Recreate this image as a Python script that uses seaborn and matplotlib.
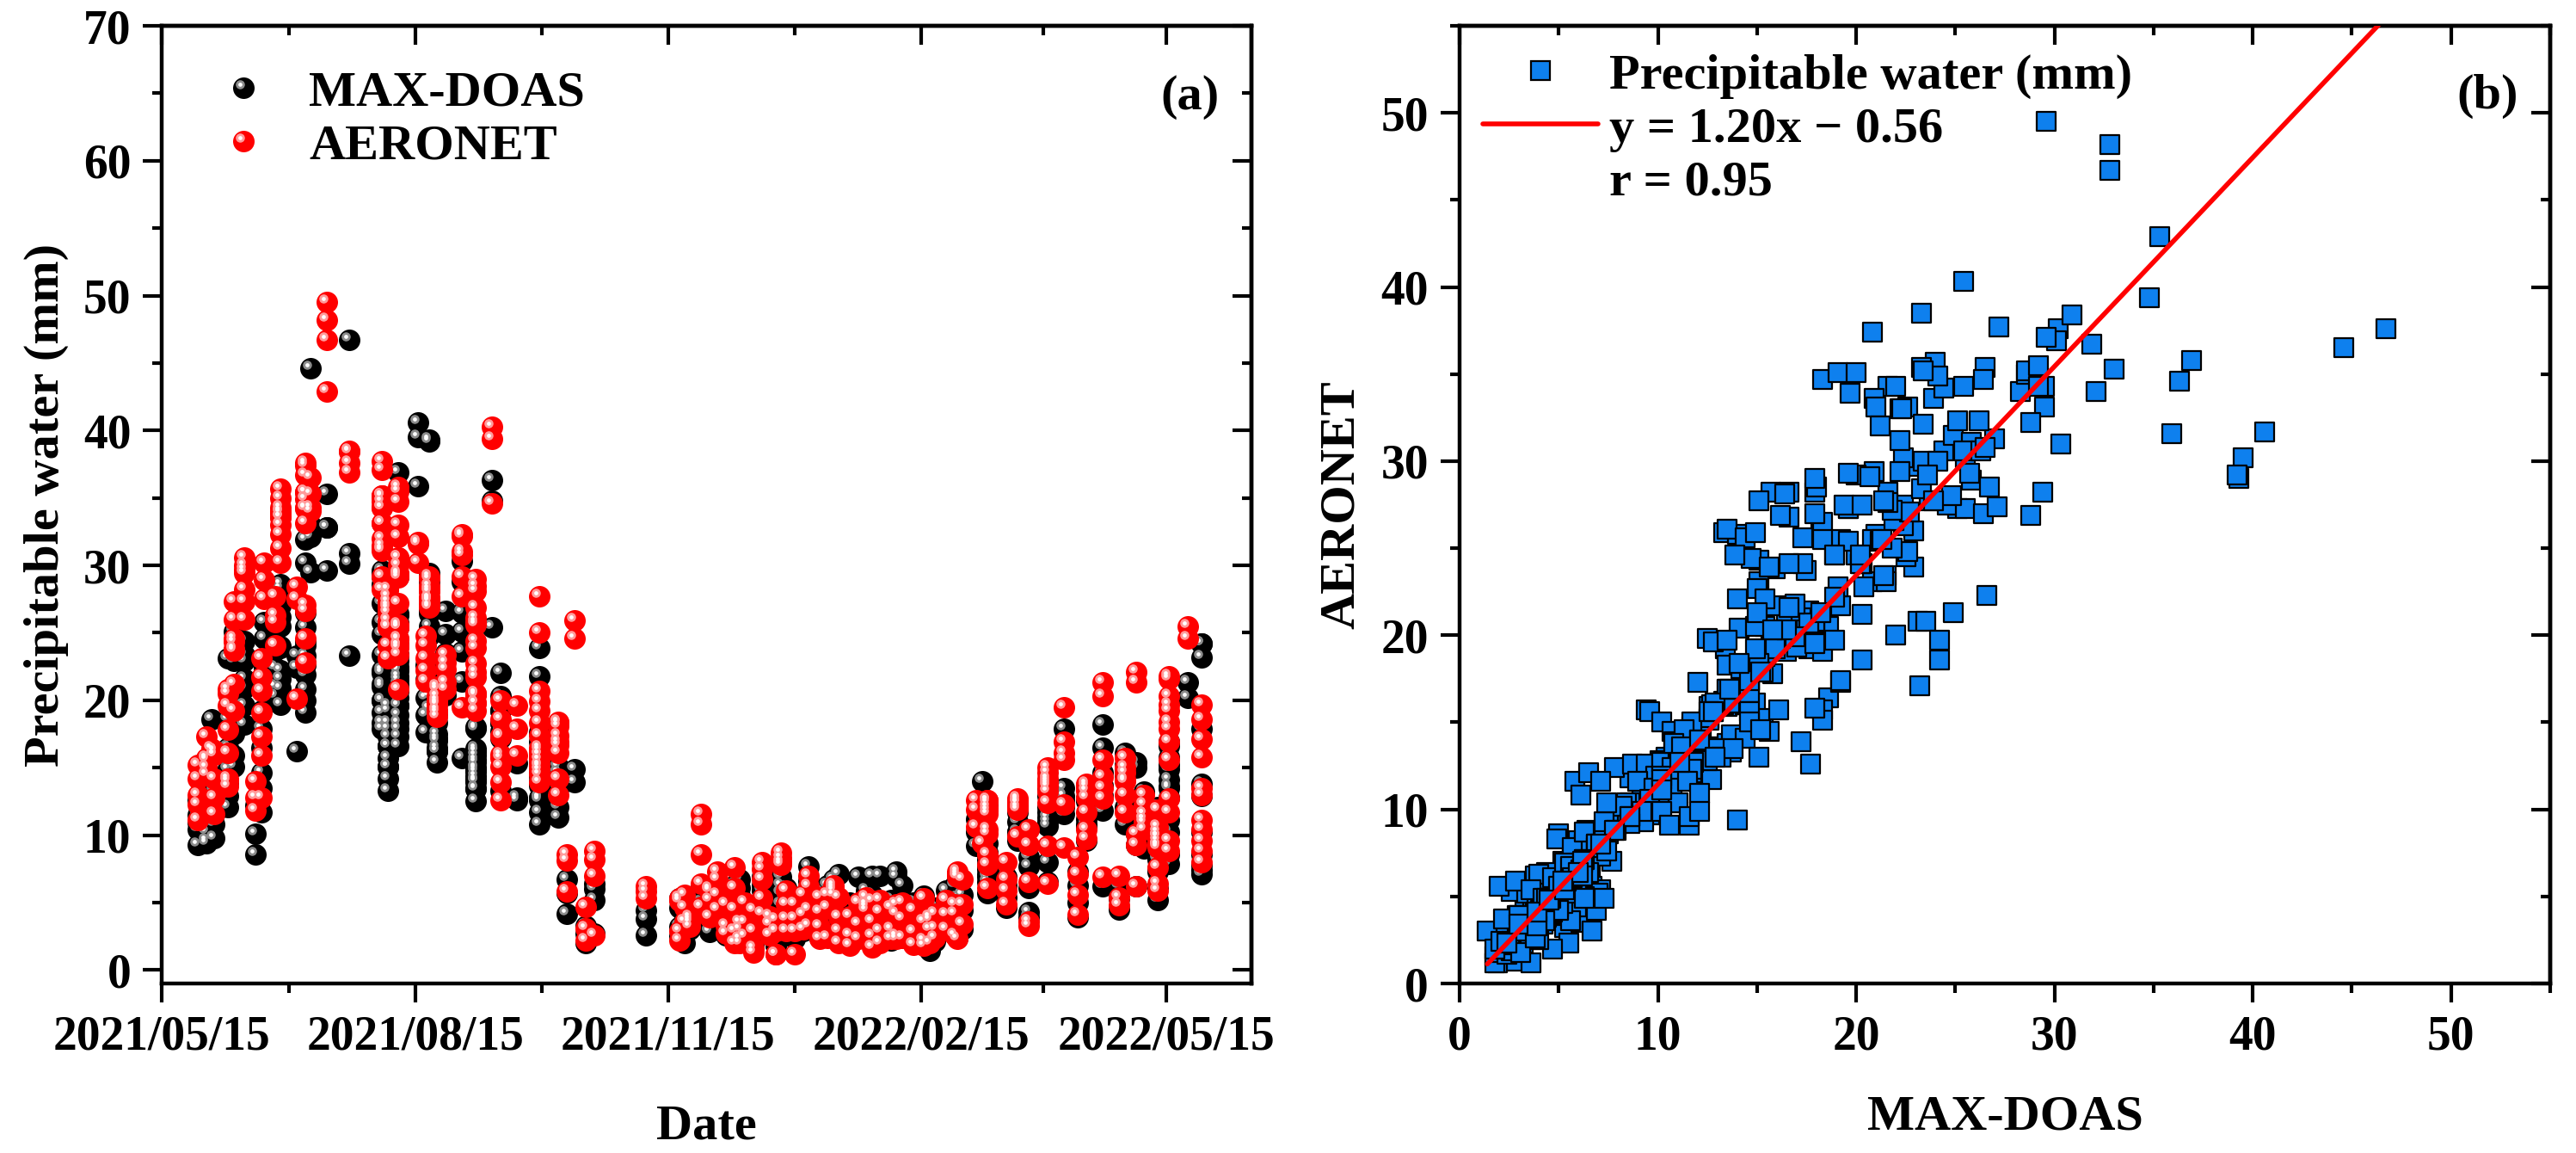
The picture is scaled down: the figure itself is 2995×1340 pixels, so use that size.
import numpy as np
import pandas as pd
import matplotlib
matplotlib.use("Agg")
import matplotlib.pyplot as plt
import matplotlib.dates as mdates
import seaborn as sns
from matplotlib.path import Path
from matplotlib.lines import Line2D
from matplotlib.legend_handler import HandlerTuple

# --- data (day = days after 2021/05/15) ---
summer_day = [13, 13, 13, 13, 13, 16, 16, 16, 16, 16, 18,
              19, 19, 19, 19, 19, 19, 19,
              24, 24, 24, 24, 24, 24, 24, 24,
              26, 26, 26, 26, 26, 26, 26, 26, 30, 30, 30, 30, 30, 30, 30,
              34, 34, 34, 36, 36, 36, 36, 36, 36, 36, 37, 37, 37, 41, 41, 41, 41,
              43, 43, 43, 43, 43, 43, 43, 43, 43, 43, 43, 49, 49, 49,
              52, 52, 52, 52, 52, 52, 52, 52, 52, 52, 52, 52, 52,
              54, 54, 54, 54, 60, 60, 60, 60, 68, 68, 68, 68]
summer_maxdoas = [9.3, 10.4, 11.5, 12.6, 10.9, 9.4, 9.6, 10.2, 10.7, 12.0, 18.6,
                  10.8, 11.6, 13.3, 9.8, 12.7, 13.7, 14.4,
                  14.9, 15.8, 16.5, 18.6, 23.1, 12.1, 12.9, 13.9,
                  22.9, 25.1, 20.3, 17.6, 15.1, 15.9, 17.5, 18.9,
                  21.6, 22.9, 24.4, 19.6, 18.2, 20.9, 23.4,
                  8.6, 10.1, 12.2, 13.5, 14.6, 16.5, 17.9, 19.2, 20.8, 11.7,
                  24.6, 25.8, 22.4, 20.3, 22.4, 23.7, 21.0,
                  25.5, 27.0, 26.2, 28.3, 28.6, 24.0, 22.2, 23.9, 21.6, 20.9, 19.7,
                  16.2, 22.4, 23.3,
                  19.1, 20.0, 21.9, 22.7, 24.4, 26.5, 31.9, 30.2, 23.3, 24.1, 25.4, 22.6, 20.8,
                  44.6, 33.0, 29.5, 32.1, 29.6, 32.8, 32.8, 35.3, 46.7, 30.9, 23.3, 30.1]
summer_aeronet = [11.1, 13.0, 14.2, 15.2, 12.3, 15.7, 15.6, 15.0, 14.5, 17.3, 16.4,
                  12.8, 14.2, 16.2, 11.6, 16.0, 16.3, 16.0,
                  16.1, 17.8, 19.6, 20.5, 20.8, 14.0, 13.6, 14.2,
                  26.0, 27.3, 21.2, 19.2, 24.3, 23.8, 23.7, 24.6,
                  28.2, 29.7, 30.6, 27.3, 26.0, 29.4, 30.0,
                  11.8, 12.8, 14.0, 15.9, 17.3, 19.1, 20.7, 21.7, 23.1, 12.8,
                  27.5, 28.9, 30.2, 24.1, 26.3, 27.7, 25.8,
                  30.2, 31.3, 32.3, 34.0, 35.0, 35.7, 33.0, 33.6, 34.3, 33.6, 33.9,
                  20.1, 27.5, 28.4,
                  22.8, 24.6, 26.6, 27.1, 34.2, 35.4, 36.7, 37.6, 35.4, 34.9, 34.3, 33.1, 37.4,
                  36.5, 35.3, 34.3, 34.0, 49.5, 48.2, 46.7, 42.9, 37.6, 38.4, 38.5, 36.9]

autumn_day = [80, 80, 80, 80, 80, 80, 80, 80, 80, 80, 80, 80, 80, 80, 80, 80, 80,
              82, 82, 82, 82, 82, 82, 82, 82, 82, 82, 82, 82,
              86, 86, 86, 86, 86, 86, 86, 86, 86, 86, 86, 86, 86, 86, 86, 86, 86,
              86, 86, 86, 86, 86, 86, 86, 86,
              93, 93, 93, 96, 96, 96, 96, 96,
              97, 97, 97, 97, 97, 97, 97, 97, 97, 97, 97, 97,
              100, 100, 100, 100, 100, 100, 100, 100, 100,
              103, 103, 103, 103, 103, 109, 109, 109, 109, 109, 109, 109,
              114, 114, 114, 114, 114, 114, 114, 114, 114, 114, 114, 114, 114,
              114, 114, 114, 114, 114,
              120, 120, 120, 123, 123, 123, 123, 123, 123, 123, 123, 123, 129, 129, 129,
              137, 137, 137, 137, 137, 137, 137, 137, 137, 137, 137,
              137, 137, 137, 137, 137, 137,
              144, 144, 144, 144, 144, 144, 144, 144, 144,
              147, 147, 147, 150, 150, 154, 154, 154,
              157, 157, 157, 157, 176, 176, 176]
autumn_maxdoas = [27.2, 29.6, 23.4, 22.0, 21.0, 20.0, 17.9, 18.3, 19.1, 20.0, 21.2,
                  22.2, 24.9, 25.8, 28.6, 29.2, 29.5,
                  19.6, 18.3, 19.2, 17.3, 15.1, 17.9, 13.3, 14.2, 16.6, 15.7, 16.6, 15.1,
                  36.9, 29.2, 26.4, 22.3, 25.4, 21.8, 20.8, 16.6, 17.9, 22.9, 23.4,
                  24.1, 26.3, 25.7, 22.2, 19.6, 20.7,
                  17.3, 18.3, 19.6, 21.2, 22.5, 18.9, 20.2, 21.5,
                  40.6, 39.5, 35.9, 22.6, 20.2, 21.5, 18.9, 17.6,
                  39.3, 26.7, 25.5, 24.8, 19.4, 20.3, 21.6, 26.4, 27.1, 28.8, 29.4, 39.2,
                  16.2, 15.4, 16.5, 17.2, 17.5, 16.2, 17.0, 18.3, 18.9,
                  26.6, 24.9, 23.5, 20.4, 21.4, 25.1, 26.5, 23.6, 21.4, 15.7, 28.8, 30.3,
                  18.0, 17.9, 16.4, 16.2, 14.0, 13.5, 14.4, 14.7, 15.6, 15.0, 14.0, 12.5, 13.4,
                  15.4, 14.1, 14.9, 15.9, 16.2,
                  25.4, 34.8, 36.3, 22.0, 20.3, 19.2, 18.3, 13.3, 19.2, 18.3, 17.2, 17.7,
                  12.8, 15.3, 12.6,
                  23.9, 21.8, 17.6, 16.9, 15.9, 15.0, 14.6, 13.9, 12.8, 11.7, 10.8,
                  12.7, 13.7, 14.4, 12.6, 15.3, 15.6,
                  14.6, 13.6, 12.1, 11.3, 13.5, 14.2, 15.1, 14.6, 13.5,
                  6.7, 5.7, 4.2, 14.9, 13.9, 3.3, 2.7, 2.0,
                  6.4, 6.0, 5.2, 2.7, 3.8, 2.6, 4.4]
autumn_aeronet = [37.7, 37.1, 35.2, 34.3, 33.1, 29.2, 28.2, 34.7, 35.1, 35.1, 32.0,
                  31.2, 31.5, 31.1, 35.2, 34.3, 33.1,
                  27.3, 26.5, 25.5, 24.1, 23.1, 27.0, 25.9, 25.4, 26.8, 28.2, 28.2, 27.7,
                  35.8, 35.5, 34.7, 33.0, 30.6, 27.2, 25.5, 24.1, 20.8, 23.9, 32.1,
                  30.0, 30.6, 29.3, 29.4, 29.3, 29.1,
                  25.6, 25.5, 25.4, 25.4, 24.5, 24.6, 24.1, 23.4,
                  31.7, 30.2, 31.6, 24.8, 24.1, 23.1, 22.2, 21.4,
                  29.0, 28.5, 27.3, 28.0, 27.5, 27.5, 27.6, 27.0, 27.4, 26.9, 28.2, 29.2,
                  20.0, 18.8, 20.8, 21.0, 20.3, 19.8, 19.3, 19.1, 19.7,
                  22.3, 21.3, 20.8, 22.8, 23.4, 32.3, 30.8, 29.2, 27.7, 19.5, 32.2, 31.0,
                  28.5, 29.0, 28.1, 26.9, 25.8, 26.1, 25.6, 24.4, 23.9, 22.7, 22.1, 19.8, 19.2,
                  20.5, 20.4, 20.5, 21.7, 19.8,
                  40.3, 39.4, 34.6, 20.0, 18.6, 17.3, 15.7, 16.0, 17.4, 15.1, 13.9, 12.6,
                  19.6, 17.9, 15.9,
                  27.7, 25.0, 20.7, 19.9, 19.2, 18.3, 17.4, 16.5, 15.6, 14.8, 13.9,
                  16.0, 16.3, 16.0, 15.1, 15.2, 14.5,
                  16.7, 16.1, 14.2, 13.0, 18.3, 18.1, 18.4, 17.4, 16.9,
                  8.6, 8.1, 5.8, 25.9, 24.6, 4.7, 3.1, 2.2,
                  8.8, 8.2, 7.0, 2.6, 6.2, 5.3, 5.8]

winter_day = [188, 188, 188, 188, 190, 190, 190, 192, 192, 192, 192,
              196, 196, 196, 196, 196,
              199, 199, 199, 199, 202, 202, 202, 202, 205, 205, 205,
              208, 208, 208, 208, 208, 210, 210, 210, 210, 212, 212, 212,
              215, 215, 215, 215,
              218, 218, 218, 218, 218, 221, 221, 221, 223, 223, 223, 223,
              225, 225, 225, 225, 227, 227, 227, 227, 230, 230, 230, 230, 233, 233, 233,
              235, 235, 235, 235, 239, 239, 239, 239, 242, 242, 242, 244, 244, 244, 244,
              246, 246, 246, 246, 250, 250, 250, 253, 253, 253, 256, 256, 256, 256,
              258, 258, 258, 258, 261, 261, 261, 261, 265, 265, 265, 267, 267, 267, 267,
              269, 269, 269, 273, 273, 273, 277, 277, 277, 277, 279, 279, 279, 279,
              281, 281, 281, 285, 285, 285, 288, 288, 288, 289, 289, 289, 289, 291, 291, 291]
winter_maxdoas = [4.6, 3.2, 2.5, 5.3, 4.0, 3.0, 2.0, 3.0, 3.8, 4.5, 5.3,
                  5.8, 6.1, 5.0, 4.4, 3.7,
                  3.4, 2.9, 4.5, 2.8, 5.9, 4.8, 4.0, 6.5, 3.1, 2.6, 4.2,
                  6.3, 4.6, 2.9, 2.2, 5.6, 6.1, 6.7, 5.5, 4.7, 3.5, 4.9, 2.7,
                  2.5, 1.8, 3.9, 2.8,
                  6.9, 5.9, 5.1, 4.1, 6.3, 3.3, 2.8, 4.4, 2.2, 1.9, 3.6, 1.8,
                  4.9, 5.7, 6.3, 6.9, 6.1, 5.1, 4.3, 3.0, 4.7, 3.4, 2.3, 3.6, 5.4, 2.9, 3.8,
                  7.7, 6.6, 4.2, 3.2, 5.8, 3.6, 2.4, 4.6, 6.3, 4.4, 2.6, 4.0, 4.7, 5.7, 6.7,
                  7.1, 4.9, 3.5, 2.2, 5.0, 3.2, 2.0, 6.9, 4.2, 2.8, 3.6, 4.2, 4.9, 5.9,
                  7.0, 5.6, 3.6, 2.4, 7.0, 4.8, 3.0, 2.1, 5.2, 3.5, 2.2, 6.9, 7.3, 3.2, 4.0,
                  6.3, 4.4, 2.9, 5.0, 3.4, 2.6, 5.5, 4.0, 2.5, 3.1, 1.4, 2.2, 3.0, 1.8,
                  4.6, 3.3, 2.1, 5.9, 4.7, 3.2, 6.3, 5.0, 3.8, 2.4, 5.3, 6.3, 7.1, 5.6, 4.4, 3.0]
winter_aeronet = [5.1, 2.9, 2.2, 5.3, 4.6, 3.6, 5.6, 3.9, 3.5, 3.7, 3.2,
                  11.6, 10.8, 8.6, 6.4, 4.7,
                  5.2, 3.9, 6.0, 5.9, 6.7, 5.6, 4.5, 7.3, 3.3, 2.7, 4.9,
                  7.6, 4.5, 2.9, 2.0, 6.1, 3.5, 3.0, 2.3, 2.0, 3.5, 5.0, 2.5,
                  2.9, 1.6, 4.4, 1.3,
                  7.5, 6.7, 5.3, 4.2, 8.0, 3.4, 2.6, 4.0, 2.9, 1.2, 3.7, 1.2,
                  8.3, 7.8, 8.7, 8.0, 5.9, 4.9, 3.8, 2.9, 4.9, 3.8, 2.9, 1.2, 5.6, 3.0, 4.1,
                  7.0, 6.2, 4.5, 3.3, 5.4, 3.2, 2.3, 4.3, 5.6, 4.6, 2.4, 6.3, 6.1, 5.9, 5.6,
                  5.4, 3.9, 2.9, 2.0, 4.0, 2.6, 1.8, 5.0, 3.4, 2.3, 5.4, 4.9, 4.7, 4.4,
                  5.1, 3.6, 2.5, 1.7, 5.2, 4.3, 2.9, 2.0, 4.6, 3.0, 2.3, 4.2, 4.9, 2.3, 2.5,
                  5.0, 3.8, 2.4, 4.4, 2.8, 1.9, 5.3, 3.6, 2.2, 1.8, 3.0, 3.7, 3.9, 2.0,
                  4.2, 3.1, 2.4, 5.2, 4.1, 3.0, 4.9, 4.2, 2.6, 2.3, 6.9, 7.1, 7.3, 6.7, 4.9, 3.4]

spring_day = [296, 296, 296, 298, 300, 300, 300, 300, 300, 300, 300, 300, 300, 300, 300,
              307, 307, 307, 307, 311, 311, 311, 311, 311, 311, 311,
              315, 315, 315, 315, 315,
              322, 322, 322, 322, 322, 322, 322, 322, 322, 322, 328, 328, 328, 328, 328, 328,
              333, 333, 333, 333, 336, 336, 336, 336, 336, 336, 336,
              342, 342, 342, 342, 342, 342, 342, 348, 348, 348,
              350, 350, 350, 350, 350, 350, 350,
              354, 354, 354, 354, 354, 357, 357, 357, 357, 357, 357, 357, 357,
              362, 362, 362, 362, 362, 362, 362, 362, 362, 362, 362, 362, 362, 362, 362,
              366, 366, 366, 366, 366, 366, 366, 366, 366, 366, 366, 366, 366,
              373, 373, 378, 378, 378, 378, 378, 378, 378, 378, 378, 378, 378]
spring_maxdoas = [11.2, 10.2, 9.2, 14.0, 12.2, 8.6, 8.2, 7.5, 6.9, 5.7, 7.8, 8.7, 9.4, 6.5, 7.1,
                  6.9, 6.3, 5.4, 4.6, 10.2, 9.9, 9.6, 10.2, 11.0, 11.7, 12.3,
                  8.4, 7.7, 6.1, 4.3, 3.9,
                  11.0, 10.7, 8.0, 6.5, 11.7, 11.3, 12.1, 12.9, 13.5, 13.9,
                  17.9, 13.5, 12.9, 12.6, 12.1, 11.6,
                  7.3, 6.3, 5.0, 3.9, 12.7, 10.6, 9.6, 12.5, 13.7, 10.8, 11.2,
                  18.2, 16.5, 14.6, 13.7, 12.9, 11.8, 6.2, 4.5, 6.2, 5.3,
                  16.1, 14.4, 10.8, 12.1, 14.6, 15.2, 15.1,
                  15.4, 15.0, 10.1, 9.3, 6.2, 13.2, 11.7, 9.0, 9.8, 10.7, 11.5, 12.1, 11.0,
                  10.2, 9.6, 8.3, 7.4, 6.0, 5.2, 9.2, 10.2, 10.6, 11.6, 12.1, 7.5, 8.2, 7.3, 8.6,
                  16.9, 15.8, 13.5, 14.9, 14.1, 15.2, 16.6, 13.6, 12.8, 11.1, 10.2, 8.6, 7.9,
                  21.3, 20.2, 24.2, 23.2, 17.9, 13.8, 12.9, 10.2, 8.6, 7.8, 7.4, 7.1, 24.2]
spring_aeronet = [12.6, 11.9, 10.6, 9.4, 11.8, 10.4, 10.1, 8.6, 7.8, 6.1, 12.4, 12.6, 12.6, 12.1, 11.6,
                  8.0, 6.7, 5.9, 4.9, 12.6, 11.9, 9.9, 12.7, 12.4, 12.1, 12.4,
                  10.4, 9.3, 6.5, 3.6, 3.3,
                  13.2, 12.4, 9.2, 6.4, 15.0, 14.6, 14.0, 13.6, 13.8, 14.2,
                  19.5, 16.9, 16.1, 15.6, 12.3, 9.1,
                  8.4, 7.1, 5.6, 4.1, 11.7, 10.4, 9.7, 12.8, 13.3, 13.8, 13.6,
                  21.3, 20.3, 15.6, 14.3, 13.5, 12.7, 6.9, 4.8, 7.0, 5.4,
                  15.7, 14.1, 11.7, 14.0, 15.0, 14.6, 13.0,
                  22.1, 21.3, 10.1, 9.3, 6.2, 13.0, 12.3, 11.6, 11.2, 11.2, 11.6, 10.9, 10.4,
                  11.9, 10.6, 9.3, 7.6, 6.4, 5.9, 9.9, 9.9, 9.1, 9.6, 9.9, 9.9, 10.2, 9.3, 9.2,
                  21.8, 20.3, 19.7, 19.2, 18.4, 17.9, 21.6, 16.9, 15.6, 12.7, 11.7, 9.6, 8.8,
                  25.5, 24.6, 19.7, 17.1, 15.8, 13.5, 13.0, 11.1, 9.6, 8.8, 10.4, 8.0, 18.6]

fit_slope = 1.20
fit_intercept = -0.56
fit_r = 0.95

start_date = "2021-05-15"
major_dates = ["2021-05-15", "2021-08-15", "2021-11-15", "2022-02-15", "2022-05-15"]
end_date = "2022-06-15"

# --- table ---
df = pd.DataFrame({
    "day": np.concatenate([summer_day, autumn_day, winter_day, spring_day]),
    "maxdoas": np.concatenate([summer_maxdoas, autumn_maxdoas, winter_maxdoas, spring_maxdoas]),
    "aeronet": np.concatenate([summer_aeronet, autumn_aeronet, winter_aeronet, spring_aeronet]),
})
df["date"] = pd.Timestamp(start_date) + pd.to_timedelta(df["day"], unit="D")

sns.set_theme(style="white")
plt.rcParams["font.family"] = ["Liberation Serif", "DejaVu Serif"]
plt.rcParams["font.weight"] = "bold"
plt.rcParams["axes.labelweight"] = "bold"
for key in ["text.color", "axes.labelcolor", "xtick.color", "ytick.color", "axes.edgecolor"]:
    plt.rcParams[key] = "black"

TICK_FS = 40
LABEL_FS = 42
SPINE_W = 3.2


def spot(r, off=2.9):
    # small off-centre circle, used for the shiny highlight on the balls
    return Path.circle((-off, off), r), (2 * (off + r)) ** 2


ring_path, ring_s = spot(3.8)
core_path, core_s = spot(1.7)
BALL_S = 324


def style_axes(ax, xmaj, xmin, ymaj, ymin):
    for sp in ax.spines.values():
        sp.set_linewidth(SPINE_W)
        sp.set_color("black")
    ax.tick_params(which="major", direction="out", length=16, width=3,
                   labelsize=TICK_FS, pad=10, bottom=True, left=True, colors="black")
    ax.tick_params(which="minor", direction="out", length=8, width=3,
                   bottom=True, left=True)
    ax.set_xticks(xmaj)
    ax.set_xticks(xmin, minor=True)
    ax.set_yticks(ymaj)
    ax.set_yticks(ymin, minor=True)
    top = ax.secondary_xaxis("top")
    top.set_xticks(xmaj)
    top.set_xticks(xmin, minor=True)
    top.tick_params(which="major", direction="in", length=16, width=3,
                    labeltop=False, labelbottom=False)
    top.tick_params(which="minor", direction="in", length=8, width=3)
    top.spines["top"].set_linewidth(SPINE_W)
    right = ax.secondary_yaxis("right")
    right.set_yticks(ymaj)
    right.set_yticks(ymin, minor=True)
    right.tick_params(which="major", direction="in", length=16, width=3,
                      labelright=False, labelleft=False)
    right.tick_params(which="minor", direction="in", length=8, width=3)
    right.spines["right"].set_linewidth(SPINE_W)


fig = plt.figure(figsize=(29.95, 13.4), dpi=100)
ax1 = fig.add_axes([0.0629, 0.147, 0.4229, 0.8306])
ax2 = fig.add_axes([0.5666, 0.147, 0.4234, 0.8306])

# ---------------- (a) time series ----------------
for col, base, shine in [("maxdoas", "black", "#8c8c8c"), ("aeronet", "#ff0000", "#ff9c9c")]:
    sns.scatterplot(data=df, x="date", y=col, ax=ax1, s=BALL_S, color=base,
                    linewidth=0, legend=False)
    sns.scatterplot(data=df, x="date", y=col, ax=ax1, s=ring_s, marker=ring_path,
                    color=shine, linewidth=0, legend=False)
    sns.scatterplot(data=df, x="date", y=col, ax=ax1, s=core_s, marker=core_path,
                    color="white", linewidth=0, legend=False)

maj = mdates.date2num(pd.to_datetime(major_dates))
mnr = (maj[:-1] + maj[1:]) / 2
ax1.set_xlim(mdates.date2num(pd.Timestamp(start_date)), mdates.date2num(pd.Timestamp(end_date)))
ax1.set_ylim(-1, 70)
style_axes(ax1, maj, mnr, np.arange(0, 71, 10), np.arange(5, 70, 10))
ax1.xaxis.set_major_formatter(mdates.DateFormatter("%Y/%m/%d"))
ax1.set_xlabel("Date", fontsize=LABEL_FS, labelpad=38)
ax1.set_ylabel("Precipitable water (mm)", fontsize=LABEL_FS, labelpad=12)


def ball(base, shine):
    return (Line2D([], [], ls="none", marker="o", ms=np.sqrt(BALL_S), mfc=base, mec=base, mew=0),
            Line2D([], [], ls="none", marker=ring_path, ms=np.sqrt(ring_s), mfc=shine, mec=shine, mew=0),
            Line2D([], [], ls="none", marker=core_path, ms=np.sqrt(core_s), mfc="white", mec="white", mew=0))


ax1.legend(handles=[ball("black", "#8c8c8c"), ball("#ff0000", "#ff9c9c")],
           labels=["MAX-DOAS", "AERONET"],
           handler_map={tuple: HandlerTuple(ndivide=1, pad=0)},
           loc="upper left", bbox_to_anchor=(254 / 2995, 1258 / 1340),
           bbox_transform=fig.transFigure, frameon=False, fontsize=LABEL_FS,
           handlelength=1.0, handletextpad=0.8, labelspacing=0.15,
           borderpad=0, borderaxespad=0)
fig.text(1384 / 2995, 1 - 113 / 1340, "(a)", ha="center", va="center",
         fontsize=LABEL_FS, fontweight="bold")

# ---------------- (b) scatter ----------------
BLUE = "#0e80ee"
sns.scatterplot(data=df, x="maxdoas", y="aeronet", ax=ax2, marker="s", s=256,
                color=BLUE, edgecolor="black", linewidth=1.6, legend=False, zorder=2)
xs = np.array([df["maxdoas"].min(), df["maxdoas"].max()])
sns.lineplot(x=xs, y=fit_slope * xs + fit_intercept, ax=ax2, color="#ff0000",
             lw=4, zorder=3)
ax2.set_xlim(0, 55)
ax2.set_ylim(0, 55)
style_axes(ax2, np.arange(0, 51, 10), np.arange(5, 56, 10),
           np.arange(0, 51, 10), np.arange(5, 56, 10))
ax2.set_xlabel("MAX-DOAS", fontsize=LABEL_FS, labelpad=30)
ax2.set_ylabel("AERONET", fontsize=LABEL_FS, labelpad=14)

sign = "−" if fit_intercept < 0 else "+"
handles = [Line2D([], [], ls="none", marker="s", ms=16, mfc=BLUE, mec="black", mew=1.6),
           Line2D([], [], color="#ff0000", lw=4),
           Line2D([], [], ls="none")]
labels = ["Precipitable water (mm)",
          f"y = {fit_slope:.2f}x {sign} {abs(fit_intercept):.2f}",
          f"r = {fit_r:.2f}"]
ax2.legend(handles=handles, labels=labels, loc="upper left",
           bbox_to_anchor=(1724 / 2995, 1278 / 1340), bbox_transform=fig.transFigure,
           frameon=False, fontsize=LABEL_FS, handlelength=2.3, handletextpad=0.22,
           labelspacing=0.15, borderpad=0, borderaxespad=0)
fig.text(2892 / 2995, 1 - 112 / 1340, "(b)", ha="center", va="center",
         fontsize=LABEL_FS, fontweight="bold")

fig.savefig("out.png", dpi=100)
